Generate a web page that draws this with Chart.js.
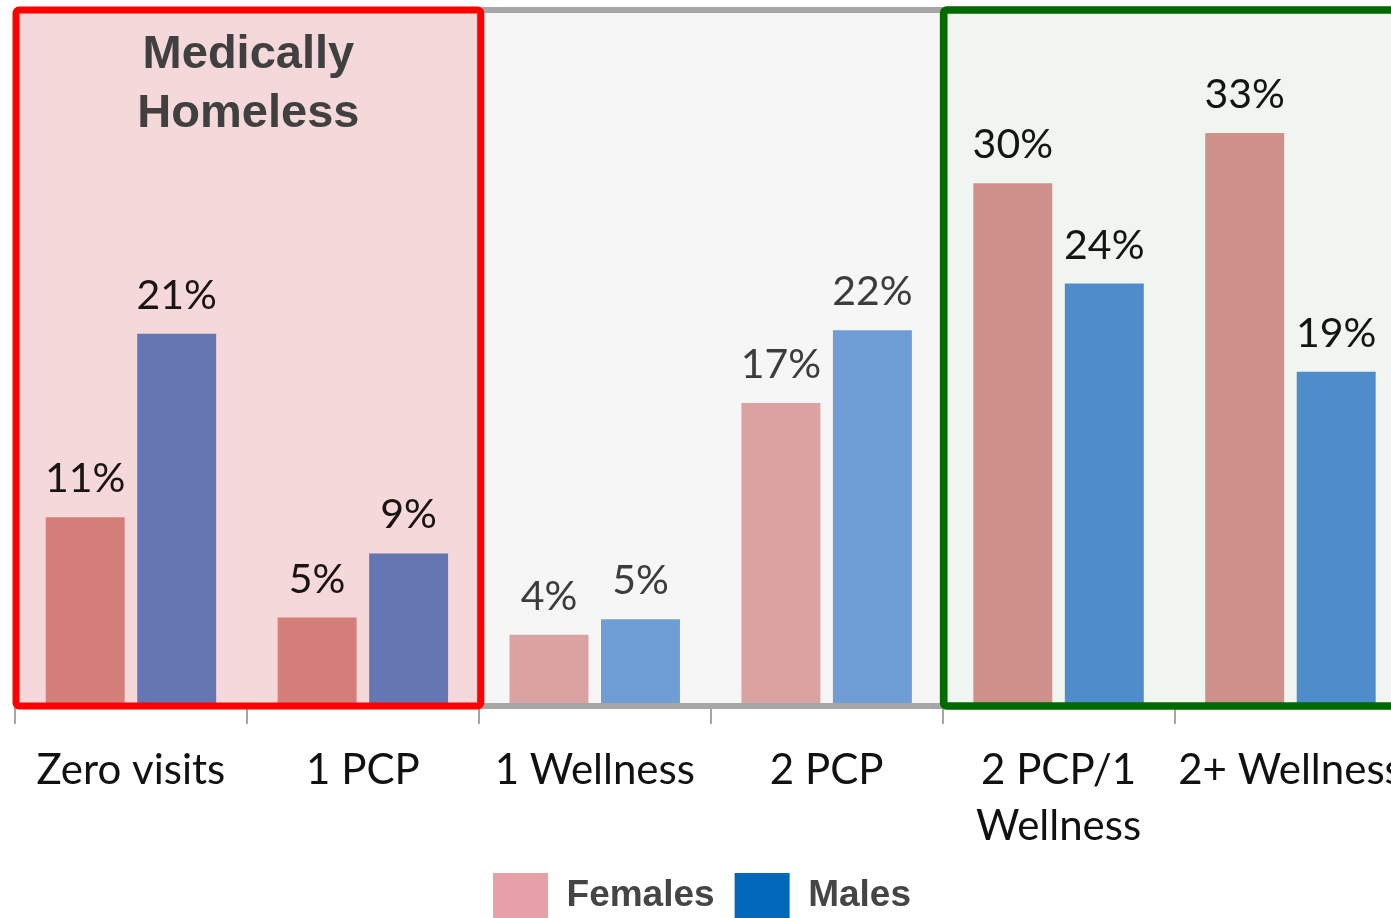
<!DOCTYPE html>
<html>
<head>
<meta charset="utf-8">
<script src="https://cdn.jsdelivr.net/npm/chart.js@4.4.1/dist/chart.umd.min.js"></script>
<style>
  html, body { margin: 0; padding: 0; background: #fff; overflow: hidden; }
  #wrap { position: relative; width: 1422px; height: 928px; }
</style>
</head>
<body>
<div id="wrap"><canvas id="visitsChart"></canvas></div>
<script>
// Chart data (percent of patients)
const categories = [["Zero visits"], ["1 PCP"], ["1 Wellness"], ["2 PCP"], ["2 PCP/1", "Wellness"], ["2+ Wellness"]];
const females = [10.8, 5.0, 4.0, 17.4, 30.1, 33.0];
const males = [21.4, 8.7, 4.9, 21.6, 24.3, 19.2];
const seriesNames = ["Females", "Males"];
const zoneTitle = ["Medically", "Homeless"];

// colours per group of bars
const femaleColors = ["#D47F7A", "#D47F7A", "#DAA3A2", "#DAA3A2", "#CF918B", "#CF918B"];
const maleColors = ["#6577B3", "#6577B3", "#6F9ED6", "#6F9ED6", "#4F8CCB", "#4F8CCB"];
const labelColors = ["#1a1414", "#1a1414", "#3c3c3c", "#3c3c3c", "#141414", "#141414"];
const legendColors = ["#E6A0A7", "#0068B8"];

const zones = [
  { from: 2, to: 3, fill: "#F6F6F6", stroke: "#A6A6A6", width: 6 },
  { from: 0, to: 1, fill: "#F5D8D9", stroke: "#FF0000", width: 7 },
  { from: 4, to: 5, fill: "#F0F6EF", stroke: "#006A00", width: 7.5 }
];

function zoneRect(chart, z) {
  const x = chart.scales.x;
  const step = x.getPixelForValue(1) - x.getPixelForValue(0);
  const left = x.getPixelForValue(z.from) - step / 2 + 1;
  const right = x.getPixelForValue(z.to) + step / 2 + 2;
  const top = chart.chartArea.top - 2;
  const bottom = chart.chartArea.bottom + 2;
  return { left, right, top, bottom };
}

const zonesPlugin = {
  id: "zones",
  afterLayout(chart) {
    // legend sits a little left of the canvas centre
    const lg = chart.legend;
    lg.left -= 15;
    lg.right -= 15;
    if (lg.adjustHitBoxes) lg.adjustHitBoxes();
  },
  beforeDatasetsDraw(chart) {
    const ctx = chart.ctx;
    ctx.save();
    zones.forEach(z => {
      const r = zoneRect(chart, z);
      ctx.fillStyle = z.fill;
      ctx.fillRect(r.left, r.top, r.right - r.left, r.bottom - r.top);
    });
    ctx.restore();
  },
  afterDatasetsDraw(chart) {
    const ctx = chart.ctx;
    ctx.save();
    zones.forEach(z => {
      const r = zoneRect(chart, z);
      ctx.strokeStyle = z.stroke;
      ctx.lineWidth = z.width;
      ctx.lineJoin = "round";
      ctx.beginPath();
      ctx.roundRect(r.left, r.top, r.right - r.left, r.bottom - r.top, 3);
      ctx.stroke();
    });

    // title inside the red zone
    const red = zoneRect(chart, zones[1]);
    ctx.fillStyle = "#404040";
    ctx.font = "bold 47px 'Liberation Sans', Arial, sans-serif";
    ctx.textAlign = "center";
    ctx.textBaseline = "alphabetic";
    zoneTitle.forEach((line, i) => {
      ctx.fillText(line, (red.left + red.right) / 2, 68 + i * 59);
    });

    // value labels above bars
    ctx.font = "41px Lato, 'Open Sans', sans-serif";
    chart.data.datasets.forEach((ds, di) => {
      chart.getDatasetMeta(di).data.forEach((bar, i) => {
        ctx.fillStyle = labelColors[i];
        ctx.fillText(Math.round(ds.data[i]) + "%", bar.x, bar.y - 25);
      });
    });
    ctx.restore();
  }
};

const ctx = document.getElementById("visitsChart").getContext("2d");
new Chart(ctx, {
  type: "bar",
  data: {
    labels: categories,
    datasets: [
      { label: seriesNames[0], data: females, backgroundColor: femaleColors },
      { label: seriesNames[1], data: males, backgroundColor: maleColors }
    ]
  },
  options: {
    responsive: true,
    maintainAspectRatio: false,
    animation: false,
    categoryPercentage: 0.789,
    barPercentage: 0.863,
    layout: { padding: { left: 15, top: 12, right: 3 } },
    scales: {
      x: {
        border: { display: false },
        grid: {
          drawOnChartArea: false,
          drawTicks: true,
          tickLength: 20,
          color: "#A6A6A6",
          lineWidth: 2
        },
        ticks: {
          color: "#111",
          padding: 19,
          font: { family: "Lato, 'Open Sans', sans-serif", size: 42, lineHeight: 1.33 }
        },
        afterFit: s => { s.height = 149; }
      },
      y: {
        display: false,
        min: 0,
        max: 40
      }
    },
    plugins: {
      legend: {
        position: "bottom",
        labels: {
          boxWidth: 55,
          boxHeight: 45,
          padding: 20,
          color: "#454545",
          font: { family: "'Liberation Sans', Arial, sans-serif", size: 37, weight: "bold" },
          generateLabels: chart => chart.data.datasets.map((ds, i) => ({
            text: ds.label,
            fillStyle: legendColors[i],
            strokeStyle: legendColors[i],
            lineWidth: 0,
            fontColor: "#454545",
            datasetIndex: i
          }))
        }
      },
      tooltip: { enabled: false }
    }
  },
  plugins: [zonesPlugin]
});
</script>
</body>
</html>
